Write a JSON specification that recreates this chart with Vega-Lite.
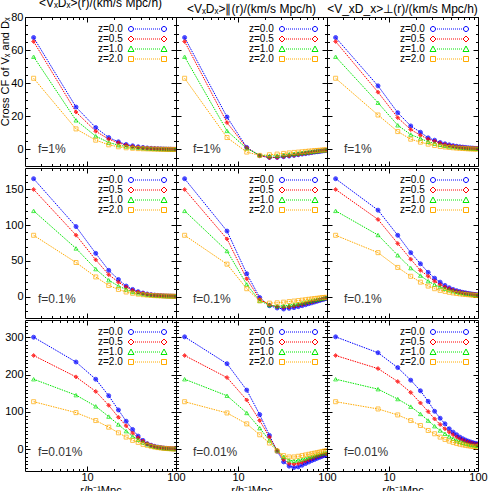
{
"$schema": "https://vega.github.io/schema/vega-lite/v6.json",
"padding": {"left": -1, "top": -4, "right": 0, "bottom": 0},
"spacing": 0,
"config": {
 "view": {"stroke": "#000", "strokeWidth": 1},
 "font": "Liberation Sans",
 "axis": {"grid": false, "domain": false, "labelFlush": false, "tickColor": "#000", "tickWidth": 1, "tickSize": -5, "labelPadding": 7, "labelFont": "Liberation Sans", "labelFontSize": 11, "labelColor": "#000", "titleFont": "Liberation Sans", "titleFontSize": 11, "titleFontWeight": "normal", "titleColor": "#000", "titlePadding": 0},
 "legend": {"labelFont": "Liberation Sans", "labelFontSize": 10, "labelColor": "#000", "symbolSize": 4, "symbolStrokeWidth": 1, "rowPadding": -3, "labelLimit": 0, "symbolOpacity": 1, "labelOffset": 0},
 "title": {"font": "Liberation Sans", "fontSize": 12, "fontWeight": "normal", "color": "#000", "offset": 1, "frame": "group"},
 "concat": {"spacing": 0}
},
"datasets": {"d": [
{"p":"11","r":2.5,"a":67.6,"b":65.2,"c":56,"d":43},
{"p":"11","r":7.5,"a":25.6,"b":22.6,"c":17.6,"d":12.4},
{"p":"11","r":12.5,"a":13.2,"b":11,"c":8,"d":5.6},
{"p":"11","r":17.5,"a":7.2,"b":6.2,"c":4.2,"d":2.8},
{"p":"11","r":22.5,"a":4.6,"b":4,"c":2.6,"d":1.6},
{"p":"11","r":27.5,"a":3,"b":2.6,"c":1.8,"d":1},
{"p":"11","r":32.5,"a":2.2,"b":1.8,"c":1.2,"d":0.7},
{"p":"11","r":37.5,"a":1.6,"b":1.3,"c":0.9,"d":0.5},
{"p":"11","r":42.5,"a":1.2,"b":1,"c":0.7,"d":0.4},
{"p":"11","r":47.5,"a":0.9,"b":0.8,"c":0.55,"d":0.3},
{"p":"11","r":52.5,"a":0.7,"b":0.6,"c":0.45,"d":0.25},
{"p":"11","r":57.5,"a":0.55,"b":0.5,"c":0.35,"d":0.2},
{"p":"11","r":62.5,"a":0.45,"b":0.4,"c":0.3,"d":0.15},
{"p":"11","r":67.5,"a":0.35,"b":0.3,"c":0.25,"d":0.1},
{"p":"11","r":72.5,"a":0.3,"b":0.25,"c":0.2,"d":0.1},
{"p":"11","r":77.5,"a":0.25,"b":0.2,"c":0.15,"d":0.05},
{"p":"11","r":82.5,"a":0.2,"b":0.15,"c":0.1,"d":0.05},
{"p":"11","r":87.5,"a":0.15,"b":0.1,"c":0.1,"d":0.05},
{"p":"11","r":92.5,"a":0.1,"b":0.1,"c":0.05,"d":0},
{"p":"11","r":97.5,"a":0.1,"b":0.1,"c":0.05,"d":0},
{"p":"12","r":2.5,"a":67.6,"b":65.2,"c":56,"d":43},
{"p":"12","r":7.5,"a":19.6,"b":16.2,"c":11.2,"d":7.2},
{"p":"12","r":12.5,"a":1.2,"b":1,"c":0.6,"d":-1.6},
{"p":"12","r":17.5,"a":-3.8,"b":-3.8,"c":-3.4,"d":-3.6},
{"p":"12","r":22.5,"a":-4.8,"b":-5,"c":-4,"d":-3.2},
{"p":"12","r":27.5,"a":-4.8,"b":-4.8,"c":-3.8,"d":-2.8},
{"p":"12","r":32.5,"a":-4.4,"b":-4.3,"c":-3.4,"d":-2.4},
{"p":"12","r":37.5,"a":-4,"b":-3.9,"c":-3,"d":-2.1},
{"p":"12","r":42.5,"a":-3.6,"b":-3.5,"c":-2.7,"d":-1.8},
{"p":"12","r":47.5,"a":-3.2,"b":-3.1,"c":-2.4,"d":-1.6},
{"p":"12","r":52.5,"a":-2.8,"b":-2.7,"c":-2.1,"d":-1.4},
{"p":"12","r":57.5,"a":-2.5,"b":-2.4,"c":-1.8,"d":-1.2},
{"p":"12","r":62.5,"a":-2.2,"b":-2.1,"c":-1.6,"d":-1},
{"p":"12","r":67.5,"a":-1.9,"b":-1.8,"c":-1.4,"d":-0.9},
{"p":"12","r":72.5,"a":-1.6,"b":-1.5,"c":-1.2,"d":-0.7},
{"p":"12","r":77.5,"a":-1.4,"b":-1.3,"c":-1,"d":-0.6},
{"p":"12","r":82.5,"a":-1.2,"b":-1.1,"c":-0.8,"d":-0.5},
{"p":"12","r":87.5,"a":-1,"b":-0.9,"c":-0.6,"d":-0.4},
{"p":"12","r":92.5,"a":-0.8,"b":-0.7,"c":-0.5,"d":-0.3},
{"p":"12","r":97.5,"a":-0.6,"b":-0.5,"c":-0.4,"d":-0.2},
{"p":"13","r":2.5,"a":67.6,"b":65.2,"c":56,"d":43},
{"p":"13","r":7.5,"a":38.4,"b":34.6,"c":28.2,"d":20.8},
{"p":"13","r":12.5,"a":22.2,"b":19.2,"c":14.6,"d":10.8},
{"p":"13","r":17.5,"a":14.2,"b":12,"c":9,"d":6.2},
{"p":"13","r":22.5,"a":10.4,"b":8.6,"c":6.6,"d":4.4},
{"p":"13","r":27.5,"a":7,"b":6.2,"c":4.6,"d":3.2},
{"p":"13","r":32.5,"a":5.6,"b":5,"c":3.6,"d":2.4},
{"p":"13","r":37.5,"a":4.2,"b":3.8,"c":2.8,"d":1.8},
{"p":"13","r":42.5,"a":3.4,"b":3,"c":2.2,"d":1.5},
{"p":"13","r":47.5,"a":2.8,"b":2.4,"c":1.8,"d":1.2},
{"p":"13","r":52.5,"a":2.3,"b":2,"c":1.5,"d":1},
{"p":"13","r":57.5,"a":1.9,"b":1.7,"c":1.3,"d":0.8},
{"p":"13","r":62.5,"a":1.6,"b":1.4,"c":1.1,"d":0.7},
{"p":"13","r":67.5,"a":1.4,"b":1.2,"c":0.9,"d":0.6},
{"p":"13","r":72.5,"a":1.2,"b":1,"c":0.8,"d":0.5},
{"p":"13","r":77.5,"a":1,"b":0.9,"c":0.7,"d":0.4},
{"p":"13","r":82.5,"a":0.9,"b":0.8,"c":0.6,"d":0.35},
{"p":"13","r":87.5,"a":0.8,"b":0.7,"c":0.5,"d":0.3},
{"p":"13","r":92.5,"a":0.7,"b":0.6,"c":0.4,"d":0.25},
{"p":"13","r":97.5,"a":0.6,"b":0.5,"c":0.4,"d":0.2},
{"p":"21","r":2.5,"a":165,"b":150,"c":120,"d":85.8},
{"p":"21","r":7.5,"a":98,"b":86,"c":67.4,"d":47.7},
{"p":"21","r":12.5,"a":60.5,"b":51.4,"c":38.5,"d":27.5},
{"p":"21","r":17.5,"a":36.7,"b":30.7,"c":22.9,"d":15.6},
{"p":"21","r":22.5,"a":23.9,"b":20.2,"c":14.7,"d":10},
{"p":"21","r":27.5,"a":14.7,"b":13.3,"c":10,"d":6.4},
{"p":"21","r":32.5,"a":10,"b":8.7,"c":6.4,"d":4.6},
{"p":"21","r":37.5,"a":6.9,"b":6.4,"c":4.6,"d":3.4},
{"p":"21","r":42.5,"a":5,"b":4.5,"c":3.4,"d":2.6},
{"p":"21","r":47.5,"a":3.6,"b":3.3,"c":2.6,"d":2},
{"p":"21","r":52.5,"a":2.7,"b":2.5,"c":2,"d":1.6},
{"p":"21","r":57.5,"a":2.1,"b":2,"c":1.6,"d":1.3},
{"p":"21","r":62.5,"a":1.7,"b":1.6,"c":1.3,"d":1.1},
{"p":"21","r":67.5,"a":1.4,"b":1.3,"c":1.1,"d":0.9},
{"p":"21","r":72.5,"a":1.1,"b":1,"c":0.9,"d":0.8},
{"p":"21","r":77.5,"a":0.9,"b":0.9,"c":0.8,"d":0.7},
{"p":"21","r":82.5,"a":0.8,"b":0.8,"c":0.7,"d":0.6},
{"p":"21","r":87.5,"a":0.7,"b":0.7,"c":0.6,"d":0.5},
{"p":"21","r":92.5,"a":0.6,"b":0.6,"c":0.5,"d":0.4},
{"p":"21","r":97.5,"a":0.5,"b":0.5,"c":0.4,"d":0.3},
{"p":"22","r":2.5,"a":165,"b":150,"c":120,"d":85.8},
{"p":"22","r":7.5,"a":91.7,"b":80.7,"c":63.8,"d":45.4},
{"p":"22","r":12.5,"a":32,"b":24.8,"c":17,"d":11},
{"p":"22","r":17.5,"a":-1.4,"b":-3.7,"c":-6,"d":-6},
{"p":"22","r":22.5,"a":-12.8,"b":-11.9,"c":-11.9,"d":-9.2},
{"p":"22","r":27.5,"a":-16,"b":-14.2,"c":-13.3,"d":-8.7},
{"p":"22","r":32.5,"a":-17.4,"b":-15.1,"c":-12.8,"d":-7.8},
{"p":"22","r":37.5,"a":-16.5,"b":-14.4,"c":-12,"d":-7},
{"p":"22","r":42.5,"a":-15.5,"b":-13.4,"c":-11,"d":-6.3},
{"p":"22","r":47.5,"a":-14.2,"b":-12.2,"c":-10,"d":-5.6},
{"p":"22","r":52.5,"a":-12.8,"b":-11,"c":-9,"d":-5},
{"p":"22","r":57.5,"a":-11.4,"b":-9.8,"c":-8,"d":-4.4},
{"p":"22","r":62.5,"a":-10,"b":-8.6,"c":-7,"d":-3.8},
{"p":"22","r":67.5,"a":-8.8,"b":-7.5,"c":-6.1,"d":-3.3},
{"p":"22","r":72.5,"a":-7.6,"b":-6.5,"c":-5.3,"d":-2.8},
{"p":"22","r":77.5,"a":-6.5,"b":-5.5,"c":-4.5,"d":-2.4},
{"p":"22","r":82.5,"a":-5.5,"b":-4.6,"c":-3.8,"d":-2},
{"p":"22","r":87.5,"a":-4.5,"b":-3.8,"c":-3.1,"d":-1.6},
{"p":"22","r":92.5,"a":-3.6,"b":-3,"c":-2.5,"d":-1.3},
{"p":"22","r":97.5,"a":-2.8,"b":-2.3,"c":-1.9,"d":-1},
{"p":"23","r":2.5,"a":165,"b":150,"c":120,"d":85.8},
{"p":"23","r":7.5,"a":121,"b":108,"c":86.2,"d":61.5},
{"p":"23","r":12.5,"a":85.8,"b":74.3,"c":57.8,"d":40.8},
{"p":"23","r":17.5,"a":61.5,"b":52.3,"c":39.9,"d":28.4},
{"p":"23","r":22.5,"a":45.9,"b":36.7,"c":29.4,"d":20.2},
{"p":"23","r":27.5,"a":33.9,"b":28.4,"c":21.6,"d":14.7},
{"p":"23","r":32.5,"a":25.7,"b":21.6,"c":16.5,"d":11},
{"p":"23","r":37.5,"a":20.2,"b":16.5,"c":13.3,"d":8.7},
{"p":"23","r":42.5,"a":15.6,"b":13.3,"c":11,"d":7.3},
{"p":"23","r":47.5,"a":12.4,"b":11,"c":9.2,"d":6},
{"p":"23","r":52.5,"a":10,"b":9,"c":7.7,"d":5.1},
{"p":"23","r":57.5,"a":8.3,"b":7.5,"c":6.5,"d":4.4},
{"p":"23","r":62.5,"a":7,"b":6.4,"c":5.6,"d":3.8},
{"p":"23","r":67.5,"a":6,"b":5.5,"c":4.8,"d":3.3},
{"p":"23","r":72.5,"a":5.2,"b":4.8,"c":4.2,"d":2.9},
{"p":"23","r":77.5,"a":4.5,"b":4.2,"c":3.7,"d":2.6},
{"p":"23","r":82.5,"a":3.9,"b":3.7,"c":3.2,"d":2.3},
{"p":"23","r":87.5,"a":3.4,"b":3.2,"c":2.8,"d":2},
{"p":"23","r":92.5,"a":3,"b":2.8,"c":2.5,"d":1.8},
{"p":"23","r":97.5,"a":2.6,"b":2.5,"c":2.2,"d":1.6},
{"p":"31","r":2.5,"a":300,"b":251,"c":187.6,"d":127.4},
{"p":"31","r":7.5,"a":233.6,"b":193.8,"c":145,"d":98.2},
{"p":"31","r":12.5,"a":187.6,"b":154.9,"c":115,"d":77},
{"p":"31","r":17.5,"a":143.4,"b":117.7,"c":87.6,"d":59.3},
{"p":"31","r":22.5,"a":105.3,"b":85.8,"c":66.4,"d":44.2},
{"p":"31","r":27.5,"a":75.2,"b":62.8,"c":48.7,"d":32.7},
{"p":"31","r":32.5,"a":53.1,"b":43.4,"c":34.5,"d":23.9},
{"p":"31","r":37.5,"a":35.4,"b":31,"c":25.7,"d":18.6},
{"p":"31","r":42.5,"a":23.9,"b":22,"c":18.6,"d":13.3},
{"p":"31","r":47.5,"a":15,"b":15,"c":13.3,"d":10.6},
{"p":"31","r":52.5,"a":11,"b":10.5,"c":9.5,"d":8},
{"p":"31","r":57.5,"a":8,"b":7.5,"c":7,"d":6},
{"p":"31","r":62.5,"a":6,"b":5.6,"c":5.3,"d":4.6},
{"p":"31","r":67.5,"a":4.6,"b":4.3,"c":4.1,"d":3.6},
{"p":"31","r":72.5,"a":3.6,"b":3.3,"c":3.2,"d":2.8},
{"p":"31","r":77.5,"a":2.8,"b":2.6,"c":2.5,"d":2.2},
{"p":"31","r":82.5,"a":2.2,"b":2,"c":2,"d":1.8},
{"p":"31","r":87.5,"a":1.8,"b":1.6,"c":1.6,"d":1.4},
{"p":"31","r":92.5,"a":1.4,"b":1.3,"c":1.3,"d":1.1},
{"p":"31","r":97.5,"a":1.1,"b":1,"c":1,"d":0.9},
{"p":"32","r":2.5,"a":300.9,"b":251,"c":187.6,"d":127.4},
{"p":"32","r":7.5,"a":229,"b":192,"c":143.4,"d":97.3},
{"p":"32","r":12.5,"a":158.4,"b":131.9,"c":97.3,"d":68.1},
{"p":"32","r":17.5,"a":92.9,"b":77,"c":56.6,"d":38.9},
{"p":"32","r":22.5,"a":37.2,"b":32.7,"c":23.9,"d":16.8},
{"p":"32","r":27.5,"a":-5.3,"b":-2.7,"c":-2.7,"d":-4.4},
{"p":"32","r":32.5,"a":-33.6,"b":-27.4,"c":-20.4,"d":-16.8},
{"p":"32","r":37.5,"a":-45,"b":-38,"c":-29.2,"d":-20.4},
{"p":"32","r":42.5,"a":-48.7,"b":-39.8,"c":-31,"d":-20.4},
{"p":"32","r":47.5,"a":-47,"b":-38,"c":-29.2,"d":-18.6},
{"p":"32","r":52.5,"a":-42.5,"b":-35,"c":-27,"d":-16.8},
{"p":"32","r":57.5,"a":-38,"b":-31.5,"c":-24.5,"d":-15},
{"p":"32","r":62.5,"a":-34,"b":-28,"c":-22,"d":-13.3},
{"p":"32","r":67.5,"a":-30,"b":-25,"c":-20,"d":-11.7},
{"p":"32","r":72.5,"a":-27,"b":-22.5,"c":-18,"d":-10.2},
{"p":"32","r":77.5,"a":-24,"b":-20,"c":-16,"d":-8.8},
{"p":"32","r":82.5,"a":-21.5,"b":-18,"c":-14,"d":-7.5},
{"p":"32","r":87.5,"a":-19,"b":-16,"c":-12.5,"d":-6.2},
{"p":"32","r":92.5,"a":-17,"b":-14,"c":-11,"d":-5},
{"p":"32","r":97.5,"a":-15,"b":-12.5,"c":-10,"d":-4},
{"p":"33","r":2.5,"a":300.9,"b":251,"c":187.6,"d":127.4},
{"p":"33","r":7.5,"a":258.4,"b":216,"c":161,"d":108},
{"p":"33","r":12.5,"a":218.6,"b":181.4,"c":134.5,"d":92},
{"p":"33","r":17.5,"a":185,"b":152.2,"c":114.2,"d":77},
{"p":"33","r":22.5,"a":156.6,"b":124,"c":94.7,"d":63.7},
{"p":"33","r":27.5,"a":128.3,"b":100.9,"c":77,"d":50.4},
{"p":"33","r":32.5,"a":101.8,"b":81.4,"c":61.9,"d":41.6},
{"p":"33","r":37.5,"a":83.2,"b":66.4,"c":50.4,"d":32.7},
{"p":"33","r":42.5,"a":68.1,"b":54.9,"c":41.6,"d":26.5},
{"p":"33","r":47.5,"a":54.9,"b":46,"c":34.5,"d":22},
{"p":"33","r":52.5,"a":46,"b":39,"c":28.3,"d":18.6},
{"p":"33","r":57.5,"a":39,"b":32.7,"c":23.9,"d":15.9},
{"p":"33","r":62.5,"a":32.7,"b":28.3,"c":20.6,"d":13.7},
{"p":"33","r":67.5,"a":28.3,"b":24.8,"c":18,"d":12},
{"p":"33","r":72.5,"a":24.8,"b":22,"c":15.9,"d":10.6},
{"p":"33","r":77.5,"a":22,"b":19.6,"c":14.1,"d":9.5},
{"p":"33","r":82.5,"a":19.8,"b":17.6,"c":12.7,"d":8.6},
{"p":"33","r":87.5,"a":17.9,"b":15.9,"c":11.5,"d":7.8},
{"p":"33","r":92.5,"a":16.3,"b":14.4,"c":10.5,"d":7.1},
{"p":"33","r":97.5,"a":15,"b":13.1,"c":9.7,"d":6.5}
]},
"vconcat": [
{"spacing": 0, "bounds": "flush", "hconcat": [
 {"width": 151, "height": 149, "title": "<VₓDₓ>(r)/(km/s Mpc/h)",
  "data": {"name": "d"},
  "transform": [{"filter": {"field": "p", "equal": "11"}}, {"fold": ["a","b","c","d"], "as": ["z","v"]}],
  "layer": [
   {"mark": {"type": "line", "strokeDash": [1.5,1], "strokeWidth": 1, "clip": true},
    "encoding": {
     "x": {"field": "r", "type": "quantitative", "scale": {"type": "log", "domain": [2,100], "nice": false}, "axis": {"orient": "bottom", "values": [10,100], "labels": false, "title": null}},
     "y": {"field": "v", "type": "quantitative", "scale": {"domain": [-10,80], "nice": false, "zero": false}, "axis": {"orient": "left", "values": [0,20,40,60,80], "title": "Cross CF of Vₓ and Dₓ", "titleAnchor": "end"}},
     "color": {"field": "z", "type": "nominal", "scale": {"domain": ["a","b","c","d"], "range": ["#0000ff","#ff0000","#00e600","#ffaa00"]}, "legend": null}}},
   {"mark": {"type": "point", "size": 16, "strokeWidth": 1, "clip": true},
    "encoding": {
     "x": {"field": "r", "type": "quantitative", "axis": {"orient": "top", "values": [10,100], "labels": false, "title": null}},
     "y": {"field": "v", "type": "quantitative", "axis": {"orient": "right", "values": [0,20,40,60,80], "labels": false, "title": null}},
     "color": {"field": "z", "type": "nominal", "scale": {"domain": ["a","b","c","d"], "range": ["#0000ff","#ff0000","#00e600","#ffaa00"]}, "legend": null},
     "fill": {"field": "z", "type": "nominal", "scale": {"domain": ["a","b","c","d"], "range": ["#0000ff","#ff0000","#ffffff00","#ffffff00"]}, "legend": null},
     "shape": {"field": "z", "type": "nominal", "scale": {"domain": ["a","b","c","d"], "range": ["circle","diamond","triangle-up","square"]}, "legend": null}}},
   {"transform": [{"filter": {"field": "v", "lt": -1000}}],
    "mark": {"type": "point", "filled": false},
    "encoding": {
     "x": {"field": "r", "type": "quantitative", "axis": {"orient": "bottom", "values": [3,4,5,6,7,8,9,20,30,40,50,60,70,80,90], "labels": false, "title": null, "tickSize": -2.5}},
     "y": {"field": "v", "type": "quantitative", "axis": {"orient": "left", "values": [-5,5,10,15,25,30,35,45,50,55,65,70,75], "labels": false, "title": null, "tickSize": -2.5}},
     "color": {"field": "z", "type": "nominal", "scale": {"domain": ["a","b","c","d"], "range": ["#0000ff","#ff0000","#00e600","#ffaa00"]}, "legend": {"orient": "top-right", "offset": 7, "padding": 0, "title": null, "labelExpr": "{'a':'z=0.0','b':'z=0.5','c':'z=1.0','d':'z=2.0'}[datum.value]"}},
     "shape": {"field": "z", "type": "nominal", "scale": {"domain": ["a","b","c","d"], "range": [
      "M35.5,0a2.5,2.5 0 1,0 5,0a2.5,2.5 0 1,0 -5,0M42,0h1M44,0h1M46,0h1M48,0h1M50,0h1M52,0h1M54,0h1M56,0h1M58,0h1M60,0h1M62,0h1M64,0h1M66,0h1M68.5,0a2.5,2.5 0 1,0 5,0a2.5,2.5 0 1,0 -5,0",
      "M38,-3L41,0L38,3L35,0ZM42,0h1M44,0h1M46,0h1M48,0h1M50,0h1M52,0h1M54,0h1M56,0h1M58,0h1M60,0h1M62,0h1M64,0h1M66,0h1M71,-3L74,0L71,3L68,0Z",
      "M38,-3L41,2.5L35,2.5ZM42,0h1M44,0h1M46,0h1M48,0h1M50,0h1M52,0h1M54,0h1M56,0h1M58,0h1M60,0h1M62,0h1M64,0h1M66,0h1M71,-3L74,2.5L68,2.5Z",
      "M35.5,-2.5h5v5h-5ZM42,0h1M44,0h1M46,0h1M48,0h1M50,0h1M52,0h1M54,0h1M56,0h1M58,0h1M60,0h1M62,0h1M64,0h1M66,0h1M68.5,-2.5h5v5h-5Z"]}, "legend": {"orient": "top-right", "offset": 7, "padding": 0, "title": null, "labelExpr": "{'a':'z=0.0','b':'z=0.5','c':'z=1.0','d':'z=2.0'}[datum.value]"}}}},
   {"data": {"values": [{"t": "f=1%"}]},
    "mark": {"type": "text", "align": "left", "baseline": "middle", "fontSize": 12, "color": "#333"},
    "encoding": {
     "x": {"datum": 2.8, "type": "quantitative", "axis": {"orient": "top", "values": [3,4,5,6,7,8,9,20,30,40,50,60,70,80,90], "labels": false, "title": null, "tickSize": -2.5}},
     "y": {"datum": 0.3, "type": "quantitative", "axis": {"orient": "right", "values": [-5,5,10,15,25,30,35,45,50,55,65,70,75], "labels": false, "title": null, "tickSize": -2.5}},
     "text": {"field": "t"}}}
  ],
  "resolve": {"scale": {"shape": "independent", "color": "independent"}, "axis": {"x": "independent", "y": "independent"}}
 },
 {"width": 151, "height": 149, "title": "<VₓDₓ>∥(r)/(km/s Mpc/h)",
  "data": {"name": "d"},
  "transform": [{"filter": {"field": "p", "equal": "12"}}, {"fold": ["a","b","c","d"], "as": ["z","v"]}],
  "layer": [
   {"mark": {"type": "line", "strokeDash": [1.5,1], "strokeWidth": 1, "clip": true},
    "encoding": {
     "x": {"field": "r", "type": "quantitative", "scale": {"type": "log", "domain": [2,100], "nice": false}, "axis": {"orient": "bottom", "values": [10,100], "labels": false, "title": null}},
     "y": {"field": "v", "type": "quantitative", "scale": {"domain": [-10,80], "nice": false, "zero": false}, "axis": {"orient": "left", "values": [0,20,40,60,80], "labels": false, "title": null}},
     "color": {"field": "z", "type": "nominal", "scale": {"domain": ["a","b","c","d"], "range": ["#0000ff","#ff0000","#00e600","#ffaa00"]}, "legend": null}}},
   {"mark": {"type": "point", "size": 16, "strokeWidth": 1, "clip": true},
    "encoding": {
     "x": {"field": "r", "type": "quantitative", "axis": {"orient": "top", "values": [10,100], "labels": false, "title": null}},
     "y": {"field": "v", "type": "quantitative", "axis": {"orient": "right", "values": [0,20,40,60,80], "labels": false, "title": null}},
     "color": {"field": "z", "type": "nominal", "scale": {"domain": ["a","b","c","d"], "range": ["#0000ff","#ff0000","#00e600","#ffaa00"]}, "legend": null},
     "fill": {"field": "z", "type": "nominal", "scale": {"domain": ["a","b","c","d"], "range": ["#0000ff","#ff0000","#ffffff00","#ffffff00"]}, "legend": null},
     "shape": {"field": "z", "type": "nominal", "scale": {"domain": ["a","b","c","d"], "range": ["circle","diamond","triangle-up","square"]}, "legend": null}}},
   {"transform": [{"filter": {"field": "v", "lt": -1000}}],
    "mark": {"type": "point", "filled": false},
    "encoding": {
     "x": {"field": "r", "type": "quantitative", "axis": {"orient": "bottom", "values": [3,4,5,6,7,8,9,20,30,40,50,60,70,80,90], "labels": false, "title": null, "tickSize": -2.5}},
     "y": {"field": "v", "type": "quantitative", "axis": {"orient": "left", "values": [-5,5,10,15,25,30,35,45,50,55,65,70,75], "labels": false, "title": null, "tickSize": -2.5}},
     "color": {"field": "z", "type": "nominal", "scale": {"domain": ["a","b","c","d"], "range": ["#0000ff","#ff0000","#00e600","#ffaa00"]}, "legend": {"orient": "top-right", "offset": 7, "padding": 0, "title": null, "labelExpr": "{'a':'z=0.0','b':'z=0.5','c':'z=1.0','d':'z=2.0'}[datum.value]"}},
     "shape": {"field": "z", "type": "nominal", "scale": {"domain": ["a","b","c","d"], "range": [
      "M35.5,0a2.5,2.5 0 1,0 5,0a2.5,2.5 0 1,0 -5,0M42,0h1M44,0h1M46,0h1M48,0h1M50,0h1M52,0h1M54,0h1M56,0h1M58,0h1M60,0h1M62,0h1M64,0h1M66,0h1M68.5,0a2.5,2.5 0 1,0 5,0a2.5,2.5 0 1,0 -5,0",
      "M38,-3L41,0L38,3L35,0ZM42,0h1M44,0h1M46,0h1M48,0h1M50,0h1M52,0h1M54,0h1M56,0h1M58,0h1M60,0h1M62,0h1M64,0h1M66,0h1M71,-3L74,0L71,3L68,0Z",
      "M38,-3L41,2.5L35,2.5ZM42,0h1M44,0h1M46,0h1M48,0h1M50,0h1M52,0h1M54,0h1M56,0h1M58,0h1M60,0h1M62,0h1M64,0h1M66,0h1M71,-3L74,2.5L68,2.5Z",
      "M35.5,-2.5h5v5h-5ZM42,0h1M44,0h1M46,0h1M48,0h1M50,0h1M52,0h1M54,0h1M56,0h1M58,0h1M60,0h1M62,0h1M64,0h1M66,0h1M68.5,-2.5h5v5h-5Z"]}, "legend": {"orient": "top-right", "offset": 7, "padding": 0, "title": null, "labelExpr": "{'a':'z=0.0','b':'z=0.5','c':'z=1.0','d':'z=2.0'}[datum.value]"}}}},
   {"data": {"values": [{"t": "f=1%"}]},
    "mark": {"type": "text", "align": "left", "baseline": "middle", "fontSize": 12, "color": "#333"},
    "encoding": {
     "x": {"datum": 3.1, "type": "quantitative", "axis": {"orient": "top", "values": [3,4,5,6,7,8,9,20,30,40,50,60,70,80,90], "labels": false, "title": null, "tickSize": -2.5}},
     "y": {"datum": 0.3, "type": "quantitative", "axis": {"orient": "right", "values": [-5,5,10,15,25,30,35,45,50,55,65,70,75], "labels": false, "title": null, "tickSize": -2.5}},
     "text": {"field": "t"}}}
  ],
  "resolve": {"scale": {"shape": "independent", "color": "independent"}, "axis": {"x": "independent", "y": "independent"}}
 },
 {"width": 151, "height": 149, "title": "<V_xD_x>⊥(r)/(km/s Mpc/h)",
  "data": {"name": "d"},
  "transform": [{"filter": {"field": "p", "equal": "13"}}, {"fold": ["a","b","c","d"], "as": ["z","v"]}],
  "layer": [
   {"mark": {"type": "line", "strokeDash": [1.5,1], "strokeWidth": 1, "clip": true},
    "encoding": {
     "x": {"field": "r", "type": "quantitative", "scale": {"type": "log", "domain": [2,100], "nice": false}, "axis": {"orient": "bottom", "values": [10,100], "labels": false, "title": null}},
     "y": {"field": "v", "type": "quantitative", "scale": {"domain": [-10,80], "nice": false, "zero": false}, "axis": {"orient": "left", "values": [0,20,40,60,80], "labels": false, "title": null}},
     "color": {"field": "z", "type": "nominal", "scale": {"domain": ["a","b","c","d"], "range": ["#0000ff","#ff0000","#00e600","#ffaa00"]}, "legend": null}}},
   {"mark": {"type": "point", "size": 16, "strokeWidth": 1, "clip": true},
    "encoding": {
     "x": {"field": "r", "type": "quantitative", "axis": {"orient": "top", "values": [10,100], "labels": false, "title": null}},
     "y": {"field": "v", "type": "quantitative", "axis": {"orient": "right", "values": [0,20,40,60,80], "labels": false, "title": null}},
     "color": {"field": "z", "type": "nominal", "scale": {"domain": ["a","b","c","d"], "range": ["#0000ff","#ff0000","#00e600","#ffaa00"]}, "legend": null},
     "fill": {"field": "z", "type": "nominal", "scale": {"domain": ["a","b","c","d"], "range": ["#0000ff","#ff0000","#ffffff00","#ffffff00"]}, "legend": null},
     "shape": {"field": "z", "type": "nominal", "scale": {"domain": ["a","b","c","d"], "range": ["circle","diamond","triangle-up","square"]}, "legend": null}}},
   {"transform": [{"filter": {"field": "v", "lt": -1000}}],
    "mark": {"type": "point", "filled": false},
    "encoding": {
     "x": {"field": "r", "type": "quantitative", "axis": {"orient": "bottom", "values": [3,4,5,6,7,8,9,20,30,40,50,60,70,80,90], "labels": false, "title": null, "tickSize": -2.5}},
     "y": {"field": "v", "type": "quantitative", "axis": {"orient": "left", "values": [-5,5,10,15,25,30,35,45,50,55,65,70,75], "labels": false, "title": null, "tickSize": -2.5}},
     "color": {"field": "z", "type": "nominal", "scale": {"domain": ["a","b","c","d"], "range": ["#0000ff","#ff0000","#00e600","#ffaa00"]}, "legend": {"orient": "top-right", "offset": 7, "padding": 0, "title": null, "labelExpr": "{'a':'z=0.0','b':'z=0.5','c':'z=1.0','d':'z=2.0'}[datum.value]"}},
     "shape": {"field": "z", "type": "nominal", "scale": {"domain": ["a","b","c","d"], "range": [
      "M35.5,0a2.5,2.5 0 1,0 5,0a2.5,2.5 0 1,0 -5,0M42,0h1M44,0h1M46,0h1M48,0h1M50,0h1M52,0h1M54,0h1M56,0h1M58,0h1M60,0h1M62,0h1M64,0h1M66,0h1M68.5,0a2.5,2.5 0 1,0 5,0a2.5,2.5 0 1,0 -5,0",
      "M38,-3L41,0L38,3L35,0ZM42,0h1M44,0h1M46,0h1M48,0h1M50,0h1M52,0h1M54,0h1M56,0h1M58,0h1M60,0h1M62,0h1M64,0h1M66,0h1M71,-3L74,0L71,3L68,0Z",
      "M38,-3L41,2.5L35,2.5ZM42,0h1M44,0h1M46,0h1M48,0h1M50,0h1M52,0h1M54,0h1M56,0h1M58,0h1M60,0h1M62,0h1M64,0h1M66,0h1M71,-3L74,2.5L68,2.5Z",
      "M35.5,-2.5h5v5h-5ZM42,0h1M44,0h1M46,0h1M48,0h1M50,0h1M52,0h1M54,0h1M56,0h1M58,0h1M60,0h1M62,0h1M64,0h1M66,0h1M68.5,-2.5h5v5h-5Z"]}, "legend": {"orient": "top-right", "offset": 7, "padding": 0, "title": null, "labelExpr": "{'a':'z=0.0','b':'z=0.5','c':'z=1.0','d':'z=2.0'}[datum.value]"}}}},
   {"data": {"values": [{"t": "f=1%"}]},
    "mark": {"type": "text", "align": "left", "baseline": "middle", "fontSize": 12, "color": "#333"},
    "encoding": {
     "x": {"datum": 3.1, "type": "quantitative", "axis": {"orient": "top", "values": [3,4,5,6,7,8,9,20,30,40,50,60,70,80,90], "labels": false, "title": null, "tickSize": -2.5}},
     "y": {"datum": 0.3, "type": "quantitative", "axis": {"orient": "right", "values": [-5,5,10,15,25,30,35,45,50,55,65,70,75], "labels": false, "title": null, "tickSize": -2.5}},
     "text": {"field": "t"}}}
  ],
  "resolve": {"scale": {"shape": "independent", "color": "independent"}, "axis": {"x": "independent", "y": "independent"}}
 }
]},
{"spacing": 0, "bounds": "flush", "hconcat": [
 {"width": 151, "height": 150,
  "data": {"name": "d"},
  "transform": [{"filter": {"field": "p", "equal": "21"}}, {"fold": ["a","b","c","d"], "as": ["z","v"]}],
  "layer": [
   {"mark": {"type": "line", "strokeDash": [1.5,1], "strokeWidth": 1, "clip": true},
    "encoding": {
     "x": {"field": "r", "type": "quantitative", "scale": {"type": "log", "domain": [2,100], "nice": false}, "axis": {"orient": "bottom", "values": [10,100], "labels": false, "title": null}},
     "y": {"field": "v", "type": "quantitative", "scale": {"domain": [-30,180], "nice": false, "zero": false}, "axis": {"orient": "left", "values": [0,50,100,150], "title": null}},
     "color": {"field": "z", "type": "nominal", "scale": {"domain": ["a","b","c","d"], "range": ["#0000ff","#ff0000","#00e600","#ffaa00"]}, "legend": null}}},
   {"mark": {"type": "point", "size": 16, "strokeWidth": 1, "clip": true},
    "encoding": {
     "x": {"field": "r", "type": "quantitative", "axis": {"orient": "top", "values": [10,100], "labels": false, "title": null}},
     "y": {"field": "v", "type": "quantitative", "axis": {"orient": "right", "values": [0,50,100,150], "labels": false, "title": null}},
     "color": {"field": "z", "type": "nominal", "scale": {"domain": ["a","b","c","d"], "range": ["#0000ff","#ff0000","#00e600","#ffaa00"]}, "legend": null},
     "fill": {"field": "z", "type": "nominal", "scale": {"domain": ["a","b","c","d"], "range": ["#0000ff","#ff0000","#ffffff00","#ffffff00"]}, "legend": null},
     "shape": {"field": "z", "type": "nominal", "scale": {"domain": ["a","b","c","d"], "range": ["circle","diamond","triangle-up","square"]}, "legend": null}}},
   {"transform": [{"filter": {"field": "v", "lt": -1000}}],
    "mark": {"type": "point", "filled": false},
    "encoding": {
     "x": {"field": "r", "type": "quantitative", "axis": {"orient": "bottom", "values": [3,4,5,6,7,8,9,20,30,40,50,60,70,80,90], "labels": false, "title": null, "tickSize": -2.5}},
     "y": {"field": "v", "type": "quantitative", "axis": {"orient": "left", "values": [-20,-10,10,20,30,40,60,70,80,90,110,120,130,140,160,170], "labels": false, "title": null, "tickSize": -2.5}},
     "color": {"field": "z", "type": "nominal", "scale": {"domain": ["a","b","c","d"], "range": ["#0000ff","#ff0000","#00e600","#ffaa00"]}, "legend": {"orient": "top-right", "offset": 7, "padding": 0, "title": null, "labelExpr": "{'a':'z=0.0','b':'z=0.5','c':'z=1.0','d':'z=2.0'}[datum.value]"}},
     "shape": {"field": "z", "type": "nominal", "scale": {"domain": ["a","b","c","d"], "range": [
      "M35.5,0a2.5,2.5 0 1,0 5,0a2.5,2.5 0 1,0 -5,0M42,0h1M44,0h1M46,0h1M48,0h1M50,0h1M52,0h1M54,0h1M56,0h1M58,0h1M60,0h1M62,0h1M64,0h1M66,0h1M68.5,0a2.5,2.5 0 1,0 5,0a2.5,2.5 0 1,0 -5,0",
      "M38,-3L41,0L38,3L35,0ZM42,0h1M44,0h1M46,0h1M48,0h1M50,0h1M52,0h1M54,0h1M56,0h1M58,0h1M60,0h1M62,0h1M64,0h1M66,0h1M71,-3L74,0L71,3L68,0Z",
      "M38,-3L41,2.5L35,2.5ZM42,0h1M44,0h1M46,0h1M48,0h1M50,0h1M52,0h1M54,0h1M56,0h1M58,0h1M60,0h1M62,0h1M64,0h1M66,0h1M71,-3L74,2.5L68,2.5Z",
      "M35.5,-2.5h5v5h-5ZM42,0h1M44,0h1M46,0h1M48,0h1M50,0h1M52,0h1M54,0h1M56,0h1M58,0h1M60,0h1M62,0h1M64,0h1M66,0h1M68.5,-2.5h5v5h-5Z"]}, "legend": {"orient": "top-right", "offset": 7, "padding": 0, "title": null, "labelExpr": "{'a':'z=0.0','b':'z=0.5','c':'z=1.0','d':'z=2.0'}[datum.value]"}}}},
   {"data": {"values": [{"t": "f=0.1%"}]},
    "mark": {"type": "text", "align": "left", "baseline": "middle", "fontSize": 12, "color": "#333"},
    "encoding": {
     "x": {"datum": 2.8, "type": "quantitative", "axis": {"orient": "top", "values": [3,4,5,6,7,8,9,20,30,40,50,60,70,80,90], "labels": false, "title": null, "tickSize": -2.5}},
     "y": {"datum": -3.5, "type": "quantitative", "axis": {"orient": "right", "values": [-20,-10,10,20,30,40,60,70,80,90,110,120,130,140,160,170], "labels": false, "title": null, "tickSize": -2.5}},
     "text": {"field": "t"}}}
  ],
  "resolve": {"scale": {"shape": "independent", "color": "independent"}, "axis": {"x": "independent", "y": "independent"}}
 },
 {"width": 151, "height": 150,
  "data": {"name": "d"},
  "transform": [{"filter": {"field": "p", "equal": "22"}}, {"fold": ["a","b","c","d"], "as": ["z","v"]}],
  "layer": [
   {"mark": {"type": "line", "strokeDash": [1.5,1], "strokeWidth": 1, "clip": true},
    "encoding": {
     "x": {"field": "r", "type": "quantitative", "scale": {"type": "log", "domain": [2,100], "nice": false}, "axis": {"orient": "bottom", "values": [10,100], "labels": false, "title": null}},
     "y": {"field": "v", "type": "quantitative", "scale": {"domain": [-30,180], "nice": false, "zero": false}, "axis": {"orient": "left", "values": [0,50,100,150], "labels": false, "title": null}},
     "color": {"field": "z", "type": "nominal", "scale": {"domain": ["a","b","c","d"], "range": ["#0000ff","#ff0000","#00e600","#ffaa00"]}, "legend": null}}},
   {"mark": {"type": "point", "size": 16, "strokeWidth": 1, "clip": true},
    "encoding": {
     "x": {"field": "r", "type": "quantitative", "axis": {"orient": "top", "values": [10,100], "labels": false, "title": null}},
     "y": {"field": "v", "type": "quantitative", "axis": {"orient": "right", "values": [0,50,100,150], "labels": false, "title": null}},
     "color": {"field": "z", "type": "nominal", "scale": {"domain": ["a","b","c","d"], "range": ["#0000ff","#ff0000","#00e600","#ffaa00"]}, "legend": null},
     "fill": {"field": "z", "type": "nominal", "scale": {"domain": ["a","b","c","d"], "range": ["#0000ff","#ff0000","#ffffff00","#ffffff00"]}, "legend": null},
     "shape": {"field": "z", "type": "nominal", "scale": {"domain": ["a","b","c","d"], "range": ["circle","diamond","triangle-up","square"]}, "legend": null}}},
   {"transform": [{"filter": {"field": "v", "lt": -1000}}],
    "mark": {"type": "point", "filled": false},
    "encoding": {
     "x": {"field": "r", "type": "quantitative", "axis": {"orient": "bottom", "values": [3,4,5,6,7,8,9,20,30,40,50,60,70,80,90], "labels": false, "title": null, "tickSize": -2.5}},
     "y": {"field": "v", "type": "quantitative", "axis": {"orient": "left", "values": [-20,-10,10,20,30,40,60,70,80,90,110,120,130,140,160,170], "labels": false, "title": null, "tickSize": -2.5}},
     "color": {"field": "z", "type": "nominal", "scale": {"domain": ["a","b","c","d"], "range": ["#0000ff","#ff0000","#00e600","#ffaa00"]}, "legend": {"orient": "top-right", "offset": 7, "padding": 0, "title": null, "labelExpr": "{'a':'z=0.0','b':'z=0.5','c':'z=1.0','d':'z=2.0'}[datum.value]"}},
     "shape": {"field": "z", "type": "nominal", "scale": {"domain": ["a","b","c","d"], "range": [
      "M35.5,0a2.5,2.5 0 1,0 5,0a2.5,2.5 0 1,0 -5,0M42,0h1M44,0h1M46,0h1M48,0h1M50,0h1M52,0h1M54,0h1M56,0h1M58,0h1M60,0h1M62,0h1M64,0h1M66,0h1M68.5,0a2.5,2.5 0 1,0 5,0a2.5,2.5 0 1,0 -5,0",
      "M38,-3L41,0L38,3L35,0ZM42,0h1M44,0h1M46,0h1M48,0h1M50,0h1M52,0h1M54,0h1M56,0h1M58,0h1M60,0h1M62,0h1M64,0h1M66,0h1M71,-3L74,0L71,3L68,0Z",
      "M38,-3L41,2.5L35,2.5ZM42,0h1M44,0h1M46,0h1M48,0h1M50,0h1M52,0h1M54,0h1M56,0h1M58,0h1M60,0h1M62,0h1M64,0h1M66,0h1M71,-3L74,2.5L68,2.5Z",
      "M35.5,-2.5h5v5h-5ZM42,0h1M44,0h1M46,0h1M48,0h1M50,0h1M52,0h1M54,0h1M56,0h1M58,0h1M60,0h1M62,0h1M64,0h1M66,0h1M68.5,-2.5h5v5h-5Z"]}, "legend": {"orient": "top-right", "offset": 7, "padding": 0, "title": null, "labelExpr": "{'a':'z=0.0','b':'z=0.5','c':'z=1.0','d':'z=2.0'}[datum.value]"}}}},
   {"data": {"values": [{"t": "f=0.1%"}]},
    "mark": {"type": "text", "align": "left", "baseline": "middle", "fontSize": 12, "color": "#333"},
    "encoding": {
     "x": {"datum": 3.1, "type": "quantitative", "axis": {"orient": "top", "values": [3,4,5,6,7,8,9,20,30,40,50,60,70,80,90], "labels": false, "title": null, "tickSize": -2.5}},
     "y": {"datum": -3.5, "type": "quantitative", "axis": {"orient": "right", "values": [-20,-10,10,20,30,40,60,70,80,90,110,120,130,140,160,170], "labels": false, "title": null, "tickSize": -2.5}},
     "text": {"field": "t"}}}
  ],
  "resolve": {"scale": {"shape": "independent", "color": "independent"}, "axis": {"x": "independent", "y": "independent"}}
 },
 {"width": 151, "height": 150,
  "data": {"name": "d"},
  "transform": [{"filter": {"field": "p", "equal": "23"}}, {"fold": ["a","b","c","d"], "as": ["z","v"]}],
  "layer": [
   {"mark": {"type": "line", "strokeDash": [1.5,1], "strokeWidth": 1, "clip": true},
    "encoding": {
     "x": {"field": "r", "type": "quantitative", "scale": {"type": "log", "domain": [2,100], "nice": false}, "axis": {"orient": "bottom", "values": [10,100], "labels": false, "title": null}},
     "y": {"field": "v", "type": "quantitative", "scale": {"domain": [-30,180], "nice": false, "zero": false}, "axis": {"orient": "left", "values": [0,50,100,150], "labels": false, "title": null}},
     "color": {"field": "z", "type": "nominal", "scale": {"domain": ["a","b","c","d"], "range": ["#0000ff","#ff0000","#00e600","#ffaa00"]}, "legend": null}}},
   {"mark": {"type": "point", "size": 16, "strokeWidth": 1, "clip": true},
    "encoding": {
     "x": {"field": "r", "type": "quantitative", "axis": {"orient": "top", "values": [10,100], "labels": false, "title": null}},
     "y": {"field": "v", "type": "quantitative", "axis": {"orient": "right", "values": [0,50,100,150], "labels": false, "title": null}},
     "color": {"field": "z", "type": "nominal", "scale": {"domain": ["a","b","c","d"], "range": ["#0000ff","#ff0000","#00e600","#ffaa00"]}, "legend": null},
     "fill": {"field": "z", "type": "nominal", "scale": {"domain": ["a","b","c","d"], "range": ["#0000ff","#ff0000","#ffffff00","#ffffff00"]}, "legend": null},
     "shape": {"field": "z", "type": "nominal", "scale": {"domain": ["a","b","c","d"], "range": ["circle","diamond","triangle-up","square"]}, "legend": null}}},
   {"transform": [{"filter": {"field": "v", "lt": -1000}}],
    "mark": {"type": "point", "filled": false},
    "encoding": {
     "x": {"field": "r", "type": "quantitative", "axis": {"orient": "bottom", "values": [3,4,5,6,7,8,9,20,30,40,50,60,70,80,90], "labels": false, "title": null, "tickSize": -2.5}},
     "y": {"field": "v", "type": "quantitative", "axis": {"orient": "left", "values": [-20,-10,10,20,30,40,60,70,80,90,110,120,130,140,160,170], "labels": false, "title": null, "tickSize": -2.5}},
     "color": {"field": "z", "type": "nominal", "scale": {"domain": ["a","b","c","d"], "range": ["#0000ff","#ff0000","#00e600","#ffaa00"]}, "legend": {"orient": "top-right", "offset": 7, "padding": 0, "title": null, "labelExpr": "{'a':'z=0.0','b':'z=0.5','c':'z=1.0','d':'z=2.0'}[datum.value]"}},
     "shape": {"field": "z", "type": "nominal", "scale": {"domain": ["a","b","c","d"], "range": [
      "M35.5,0a2.5,2.5 0 1,0 5,0a2.5,2.5 0 1,0 -5,0M42,0h1M44,0h1M46,0h1M48,0h1M50,0h1M52,0h1M54,0h1M56,0h1M58,0h1M60,0h1M62,0h1M64,0h1M66,0h1M68.5,0a2.5,2.5 0 1,0 5,0a2.5,2.5 0 1,0 -5,0",
      "M38,-3L41,0L38,3L35,0ZM42,0h1M44,0h1M46,0h1M48,0h1M50,0h1M52,0h1M54,0h1M56,0h1M58,0h1M60,0h1M62,0h1M64,0h1M66,0h1M71,-3L74,0L71,3L68,0Z",
      "M38,-3L41,2.5L35,2.5ZM42,0h1M44,0h1M46,0h1M48,0h1M50,0h1M52,0h1M54,0h1M56,0h1M58,0h1M60,0h1M62,0h1M64,0h1M66,0h1M71,-3L74,2.5L68,2.5Z",
      "M35.5,-2.5h5v5h-5ZM42,0h1M44,0h1M46,0h1M48,0h1M50,0h1M52,0h1M54,0h1M56,0h1M58,0h1M60,0h1M62,0h1M64,0h1M66,0h1M68.5,-2.5h5v5h-5Z"]}, "legend": {"orient": "top-right", "offset": 7, "padding": 0, "title": null, "labelExpr": "{'a':'z=0.0','b':'z=0.5','c':'z=1.0','d':'z=2.0'}[datum.value]"}}}},
   {"data": {"values": [{"t": "f=0.1%"}]},
    "mark": {"type": "text", "align": "left", "baseline": "middle", "fontSize": 12, "color": "#333"},
    "encoding": {
     "x": {"datum": 3.1, "type": "quantitative", "axis": {"orient": "top", "values": [3,4,5,6,7,8,9,20,30,40,50,60,70,80,90], "labels": false, "title": null, "tickSize": -2.5}},
     "y": {"datum": -3.5, "type": "quantitative", "axis": {"orient": "right", "values": [-20,-10,10,20,30,40,60,70,80,90,110,120,130,140,160,170], "labels": false, "title": null, "tickSize": -2.5}},
     "text": {"field": "t"}}}
  ],
  "resolve": {"scale": {"shape": "independent", "color": "independent"}, "axis": {"x": "independent", "y": "independent"}}
 }
]},
{"spacing": 0, "bounds": "flush", "hconcat": [
 {"width": 151, "height": 151,
  "data": {"name": "d"},
  "transform": [{"filter": {"field": "p", "equal": "31"}}, {"fold": ["a","b","c","d"], "as": ["z","v"]}],
  "layer": [
   {"mark": {"type": "line", "strokeDash": [1.5,1], "strokeWidth": 1, "clip": true},
    "encoding": {
     "x": {"field": "r", "type": "quantitative", "scale": {"type": "log", "domain": [2,100], "nice": false}, "axis": {"orient": "bottom", "values": [10,100], "format": "d", "labelPadding": 5, "title": "r/h⁻¹Mpc", "titleY": 13.5}},
     "y": {"field": "v", "type": "quantitative", "scale": {"domain": [-58,346], "nice": false, "zero": false}, "axis": {"orient": "left", "values": [0,100,200,300], "title": null}},
     "color": {"field": "z", "type": "nominal", "scale": {"domain": ["a","b","c","d"], "range": ["#0000ff","#ff0000","#00e600","#ffaa00"]}, "legend": null}}},
   {"mark": {"type": "point", "size": 16, "strokeWidth": 1, "clip": true},
    "encoding": {
     "x": {"field": "r", "type": "quantitative", "axis": {"orient": "top", "values": [10,100], "labels": false, "title": null}},
     "y": {"field": "v", "type": "quantitative", "axis": {"orient": "right", "values": [0,100,200,300], "labels": false, "title": null}},
     "color": {"field": "z", "type": "nominal", "scale": {"domain": ["a","b","c","d"], "range": ["#0000ff","#ff0000","#00e600","#ffaa00"]}, "legend": null},
     "fill": {"field": "z", "type": "nominal", "scale": {"domain": ["a","b","c","d"], "range": ["#0000ff","#ff0000","#ffffff00","#ffffff00"]}, "legend": null},
     "shape": {"field": "z", "type": "nominal", "scale": {"domain": ["a","b","c","d"], "range": ["circle","diamond","triangle-up","square"]}, "legend": null}}},
   {"transform": [{"filter": {"field": "v", "lt": -1000}}],
    "mark": {"type": "point", "filled": false},
    "encoding": {
     "x": {"field": "r", "type": "quantitative", "axis": {"orient": "bottom", "values": [3,4,5,6,7,8,9,20,30,40,50,60,70,80,90], "labels": false, "title": null, "tickSize": -2.5}},
     "y": {"field": "v", "type": "quantitative", "axis": {"orient": "left", "values": [-50,-40,-30,-20,-10,10,20,30,40,50,60,70,80,90,110,120,130,140,150,160,170,180,190,210,220,230,240,250,260,270,280,290,310,320,330,340], "labels": false, "title": null, "tickSize": -2.5}},
     "color": {"field": "z", "type": "nominal", "scale": {"domain": ["a","b","c","d"], "range": ["#0000ff","#ff0000","#00e600","#ffaa00"]}, "legend": {"orient": "top-right", "offset": 7, "padding": 0, "title": null, "labelExpr": "{'a':'z=0.0','b':'z=0.5','c':'z=1.0','d':'z=2.0'}[datum.value]"}},
     "shape": {"field": "z", "type": "nominal", "scale": {"domain": ["a","b","c","d"], "range": [
      "M35.5,0a2.5,2.5 0 1,0 5,0a2.5,2.5 0 1,0 -5,0M42,0h1M44,0h1M46,0h1M48,0h1M50,0h1M52,0h1M54,0h1M56,0h1M58,0h1M60,0h1M62,0h1M64,0h1M66,0h1M68.5,0a2.5,2.5 0 1,0 5,0a2.5,2.5 0 1,0 -5,0",
      "M38,-3L41,0L38,3L35,0ZM42,0h1M44,0h1M46,0h1M48,0h1M50,0h1M52,0h1M54,0h1M56,0h1M58,0h1M60,0h1M62,0h1M64,0h1M66,0h1M71,-3L74,0L71,3L68,0Z",
      "M38,-3L41,2.5L35,2.5ZM42,0h1M44,0h1M46,0h1M48,0h1M50,0h1M52,0h1M54,0h1M56,0h1M58,0h1M60,0h1M62,0h1M64,0h1M66,0h1M71,-3L74,2.5L68,2.5Z",
      "M35.5,-2.5h5v5h-5ZM42,0h1M44,0h1M46,0h1M48,0h1M50,0h1M52,0h1M54,0h1M56,0h1M58,0h1M60,0h1M62,0h1M64,0h1M66,0h1M68.5,-2.5h5v5h-5Z"]}, "legend": {"orient": "top-right", "offset": 7, "padding": 0, "title": null, "labelExpr": "{'a':'z=0.0','b':'z=0.5','c':'z=1.0','d':'z=2.0'}[datum.value]"}}}},
   {"data": {"values": [{"t": "f=0.01%"}]},
    "mark": {"type": "text", "align": "left", "baseline": "middle", "fontSize": 12, "color": "#333"},
    "encoding": {
     "x": {"datum": 2.8, "type": "quantitative", "axis": {"orient": "top", "values": [3,4,5,6,7,8,9,20,30,40,50,60,70,80,90], "labels": false, "title": null, "tickSize": -2.5}},
     "y": {"datum": -7, "type": "quantitative", "axis": {"orient": "right", "values": [-50,-40,-30,-20,-10,10,20,30,40,50,60,70,80,90,110,120,130,140,150,160,170,180,190,210,220,230,240,250,260,270,280,290,310,320,330,340], "labels": false, "title": null, "tickSize": -2.5}},
     "text": {"field": "t"}}}
  ],
  "resolve": {"scale": {"shape": "independent", "color": "independent"}, "axis": {"x": "independent", "y": "independent"}}
 },
 {"width": 151, "height": 151,
  "data": {"name": "d"},
  "transform": [{"filter": {"field": "p", "equal": "32"}}, {"fold": ["a","b","c","d"], "as": ["z","v"]}],
  "layer": [
   {"mark": {"type": "line", "strokeDash": [1.5,1], "strokeWidth": 1, "clip": true},
    "encoding": {
     "x": {"field": "r", "type": "quantitative", "scale": {"type": "log", "domain": [2,100], "nice": false}, "axis": {"orient": "bottom", "values": [10,100], "format": "d", "labelPadding": 5, "title": "r/h⁻¹Mpc", "titleY": 13.5}},
     "y": {"field": "v", "type": "quantitative", "scale": {"domain": [-58,346], "nice": false, "zero": false}, "axis": {"orient": "left", "values": [0,100,200,300], "labels": false, "title": null}},
     "color": {"field": "z", "type": "nominal", "scale": {"domain": ["a","b","c","d"], "range": ["#0000ff","#ff0000","#00e600","#ffaa00"]}, "legend": null}}},
   {"mark": {"type": "point", "size": 16, "strokeWidth": 1, "clip": true},
    "encoding": {
     "x": {"field": "r", "type": "quantitative", "axis": {"orient": "top", "values": [10,100], "labels": false, "title": null}},
     "y": {"field": "v", "type": "quantitative", "axis": {"orient": "right", "values": [0,100,200,300], "labels": false, "title": null}},
     "color": {"field": "z", "type": "nominal", "scale": {"domain": ["a","b","c","d"], "range": ["#0000ff","#ff0000","#00e600","#ffaa00"]}, "legend": null},
     "fill": {"field": "z", "type": "nominal", "scale": {"domain": ["a","b","c","d"], "range": ["#0000ff","#ff0000","#ffffff00","#ffffff00"]}, "legend": null},
     "shape": {"field": "z", "type": "nominal", "scale": {"domain": ["a","b","c","d"], "range": ["circle","diamond","triangle-up","square"]}, "legend": null}}},
   {"transform": [{"filter": {"field": "v", "lt": -1000}}],
    "mark": {"type": "point", "filled": false},
    "encoding": {
     "x": {"field": "r", "type": "quantitative", "axis": {"orient": "bottom", "values": [3,4,5,6,7,8,9,20,30,40,50,60,70,80,90], "labels": false, "title": null, "tickSize": -2.5}},
     "y": {"field": "v", "type": "quantitative", "axis": {"orient": "left", "values": [-50,-40,-30,-20,-10,10,20,30,40,50,60,70,80,90,110,120,130,140,150,160,170,180,190,210,220,230,240,250,260,270,280,290,310,320,330,340], "labels": false, "title": null, "tickSize": -2.5}},
     "color": {"field": "z", "type": "nominal", "scale": {"domain": ["a","b","c","d"], "range": ["#0000ff","#ff0000","#00e600","#ffaa00"]}, "legend": {"orient": "top-right", "offset": 7, "padding": 0, "title": null, "labelExpr": "{'a':'z=0.0','b':'z=0.5','c':'z=1.0','d':'z=2.0'}[datum.value]"}},
     "shape": {"field": "z", "type": "nominal", "scale": {"domain": ["a","b","c","d"], "range": [
      "M35.5,0a2.5,2.5 0 1,0 5,0a2.5,2.5 0 1,0 -5,0M42,0h1M44,0h1M46,0h1M48,0h1M50,0h1M52,0h1M54,0h1M56,0h1M58,0h1M60,0h1M62,0h1M64,0h1M66,0h1M68.5,0a2.5,2.5 0 1,0 5,0a2.5,2.5 0 1,0 -5,0",
      "M38,-3L41,0L38,3L35,0ZM42,0h1M44,0h1M46,0h1M48,0h1M50,0h1M52,0h1M54,0h1M56,0h1M58,0h1M60,0h1M62,0h1M64,0h1M66,0h1M71,-3L74,0L71,3L68,0Z",
      "M38,-3L41,2.5L35,2.5ZM42,0h1M44,0h1M46,0h1M48,0h1M50,0h1M52,0h1M54,0h1M56,0h1M58,0h1M60,0h1M62,0h1M64,0h1M66,0h1M71,-3L74,2.5L68,2.5Z",
      "M35.5,-2.5h5v5h-5ZM42,0h1M44,0h1M46,0h1M48,0h1M50,0h1M52,0h1M54,0h1M56,0h1M58,0h1M60,0h1M62,0h1M64,0h1M66,0h1M68.5,-2.5h5v5h-5Z"]}, "legend": {"orient": "top-right", "offset": 7, "padding": 0, "title": null, "labelExpr": "{'a':'z=0.0','b':'z=0.5','c':'z=1.0','d':'z=2.0'}[datum.value]"}}}},
   {"data": {"values": [{"t": "f=0.01%"}]},
    "mark": {"type": "text", "align": "left", "baseline": "middle", "fontSize": 12, "color": "#333"},
    "encoding": {
     "x": {"datum": 3.1, "type": "quantitative", "axis": {"orient": "top", "values": [3,4,5,6,7,8,9,20,30,40,50,60,70,80,90], "labels": false, "title": null, "tickSize": -2.5}},
     "y": {"datum": -7, "type": "quantitative", "axis": {"orient": "right", "values": [-50,-40,-30,-20,-10,10,20,30,40,50,60,70,80,90,110,120,130,140,150,160,170,180,190,210,220,230,240,250,260,270,280,290,310,320,330,340], "labels": false, "title": null, "tickSize": -2.5}},
     "text": {"field": "t"}}}
  ],
  "resolve": {"scale": {"shape": "independent", "color": "independent"}, "axis": {"x": "independent", "y": "independent"}}
 },
 {"width": 151, "height": 151,
  "data": {"name": "d"},
  "transform": [{"filter": {"field": "p", "equal": "33"}}, {"fold": ["a","b","c","d"], "as": ["z","v"]}],
  "layer": [
   {"mark": {"type": "line", "strokeDash": [1.5,1], "strokeWidth": 1, "clip": true},
    "encoding": {
     "x": {"field": "r", "type": "quantitative", "scale": {"type": "log", "domain": [2,100], "nice": false}, "axis": {"orient": "bottom", "values": [10,100], "format": "d", "labelPadding": 5, "title": "r/h⁻¹Mpc", "titleY": 13.5}},
     "y": {"field": "v", "type": "quantitative", "scale": {"domain": [-58,346], "nice": false, "zero": false}, "axis": {"orient": "left", "values": [0,100,200,300], "labels": false, "title": null}},
     "color": {"field": "z", "type": "nominal", "scale": {"domain": ["a","b","c","d"], "range": ["#0000ff","#ff0000","#00e600","#ffaa00"]}, "legend": null}}},
   {"mark": {"type": "point", "size": 16, "strokeWidth": 1, "clip": true},
    "encoding": {
     "x": {"field": "r", "type": "quantitative", "axis": {"orient": "top", "values": [10,100], "labels": false, "title": null}},
     "y": {"field": "v", "type": "quantitative", "axis": {"orient": "right", "values": [0,100,200,300], "labels": false, "title": null}},
     "color": {"field": "z", "type": "nominal", "scale": {"domain": ["a","b","c","d"], "range": ["#0000ff","#ff0000","#00e600","#ffaa00"]}, "legend": null},
     "fill": {"field": "z", "type": "nominal", "scale": {"domain": ["a","b","c","d"], "range": ["#0000ff","#ff0000","#ffffff00","#ffffff00"]}, "legend": null},
     "shape": {"field": "z", "type": "nominal", "scale": {"domain": ["a","b","c","d"], "range": ["circle","diamond","triangle-up","square"]}, "legend": null}}},
   {"transform": [{"filter": {"field": "v", "lt": -1000}}],
    "mark": {"type": "point", "filled": false},
    "encoding": {
     "x": {"field": "r", "type": "quantitative", "axis": {"orient": "bottom", "values": [3,4,5,6,7,8,9,20,30,40,50,60,70,80,90], "labels": false, "title": null, "tickSize": -2.5}},
     "y": {"field": "v", "type": "quantitative", "axis": {"orient": "left", "values": [-50,-40,-30,-20,-10,10,20,30,40,50,60,70,80,90,110,120,130,140,150,160,170,180,190,210,220,230,240,250,260,270,280,290,310,320,330,340], "labels": false, "title": null, "tickSize": -2.5}},
     "color": {"field": "z", "type": "nominal", "scale": {"domain": ["a","b","c","d"], "range": ["#0000ff","#ff0000","#00e600","#ffaa00"]}, "legend": {"orient": "top-right", "offset": 7, "padding": 0, "title": null, "labelExpr": "{'a':'z=0.0','b':'z=0.5','c':'z=1.0','d':'z=2.0'}[datum.value]"}},
     "shape": {"field": "z", "type": "nominal", "scale": {"domain": ["a","b","c","d"], "range": [
      "M35.5,0a2.5,2.5 0 1,0 5,0a2.5,2.5 0 1,0 -5,0M42,0h1M44,0h1M46,0h1M48,0h1M50,0h1M52,0h1M54,0h1M56,0h1M58,0h1M60,0h1M62,0h1M64,0h1M66,0h1M68.5,0a2.5,2.5 0 1,0 5,0a2.5,2.5 0 1,0 -5,0",
      "M38,-3L41,0L38,3L35,0ZM42,0h1M44,0h1M46,0h1M48,0h1M50,0h1M52,0h1M54,0h1M56,0h1M58,0h1M60,0h1M62,0h1M64,0h1M66,0h1M71,-3L74,0L71,3L68,0Z",
      "M38,-3L41,2.5L35,2.5ZM42,0h1M44,0h1M46,0h1M48,0h1M50,0h1M52,0h1M54,0h1M56,0h1M58,0h1M60,0h1M62,0h1M64,0h1M66,0h1M71,-3L74,2.5L68,2.5Z",
      "M35.5,-2.5h5v5h-5ZM42,0h1M44,0h1M46,0h1M48,0h1M50,0h1M52,0h1M54,0h1M56,0h1M58,0h1M60,0h1M62,0h1M64,0h1M66,0h1M68.5,-2.5h5v5h-5Z"]}, "legend": {"orient": "top-right", "offset": 7, "padding": 0, "title": null, "labelExpr": "{'a':'z=0.0','b':'z=0.5','c':'z=1.0','d':'z=2.0'}[datum.value]"}}}},
   {"data": {"values": [{"t": "f=0.01%"}]},
    "mark": {"type": "text", "align": "left", "baseline": "middle", "fontSize": 12, "color": "#333"},
    "encoding": {
     "x": {"datum": 3.1, "type": "quantitative", "axis": {"orient": "top", "values": [3,4,5,6,7,8,9,20,30,40,50,60,70,80,90], "labels": false, "title": null, "tickSize": -2.5}},
     "y": {"datum": -7, "type": "quantitative", "axis": {"orient": "right", "values": [-50,-40,-30,-20,-10,10,20,30,40,50,60,70,80,90,110,120,130,140,150,160,170,180,190,210,220,230,240,250,260,270,280,290,310,320,330,340], "labels": false, "title": null, "tickSize": -2.5}},
     "text": {"field": "t"}}}
  ],
  "resolve": {"scale": {"shape": "independent", "color": "independent"}, "axis": {"x": "independent", "y": "independent"}}
 }
]}
]
}
